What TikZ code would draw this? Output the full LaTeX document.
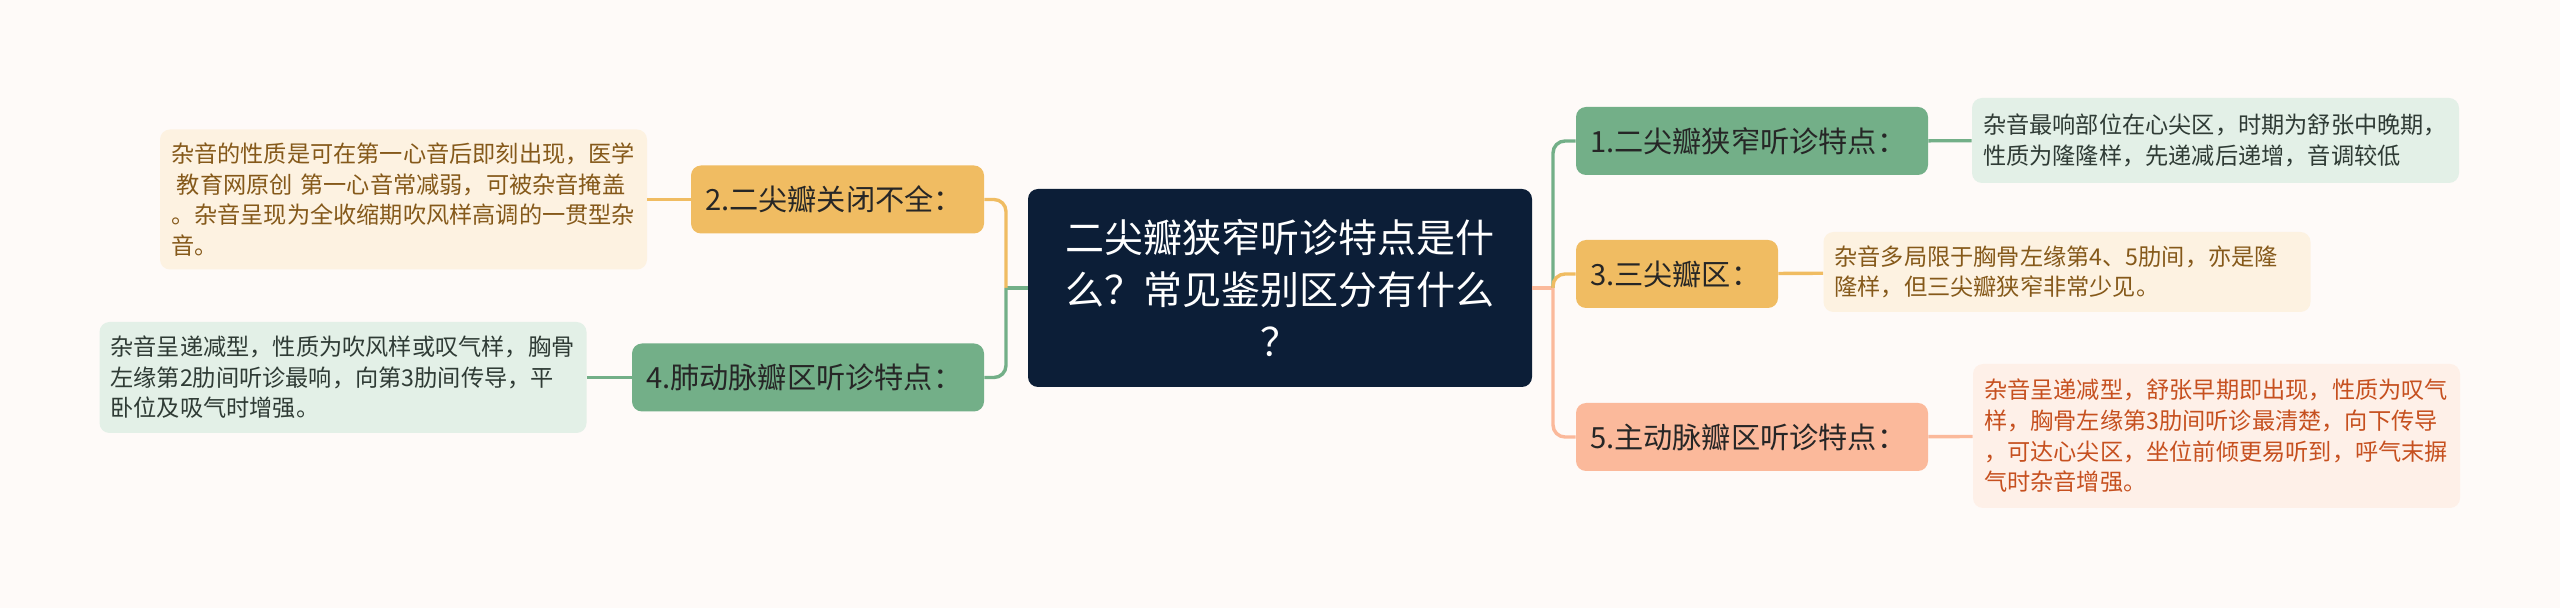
\documentclass[tikz,border=0pt]{standalone}
\usepackage{fontspec}
\newfontfamily\cjk{Noto Sans CJK SC}
\usetikzlibrary{positioning}
\definecolor{bgcol}{HTML}{FEFAF8}
\definecolor{navyc}{HTML}{0C1E37}
\definecolor{orangec}{HTML}{F0BC62}
\definecolor{greenc}{HTML}{73AF88}
\definecolor{peachc}{HTML}{FBB99B}
\definecolor{creamc}{HTML}{FDF2E1}
\definecolor{mintc}{HTML}{E3F0E7}
\definecolor{blushc}{HTML}{FEF0E8}
\definecolor{brownt}{HTML}{85591A}
\definecolor{greent}{HTML}{2F3B35}
\definecolor{redt}{HTML}{C6501F}
\definecolor{nodet}{HTML}{262626}
\tikzset{
    rootnode/.style = {rectangle, rounded corners=5pt, fill=navyc, text=white, align=center, font=\cjk\fontsize{19.5}{26}\selectfont, minimum width=252pt, minimum height=99pt, inner sep=0pt},
    branch/.style = {rectangle, rounded corners=5pt, align=left, font=\cjk\fontsize{14.6}{18}\selectfont, text=nodet, minimum height=34pt, inner xsep=7pt, inner ysep=0pt},
    brancho/.style = {branch, fill=orangec},
    branchg/.style = {branch, fill=greenc},
    branchp/.style = {branch, fill=peachc},
    leaf/.style = {rectangle, rounded corners=5pt, align=left, font=\cjk\fontsize{11.6}{15.3}\selectfont, text width=232.5pt, inner xsep=5.5pt, inner ysep=0pt},
    leafo/.style = {leaf, fill=creamc, text=brownt},
    leafg/.style = {leaf, fill=mintc, text=greent},
    leafp/.style = {leaf, fill=blushc, text=redt},
    edgeo/.style = {-,line width=1.7pt,orangec},
    edgeg/.style = {-,line width=1.7pt,greenc},
    edgep/.style = {-,line width=1.7pt,peachc}
}

\begin{document}
\begin{tikzpicture}[x=0.5pt,y=-0.5pt]
  \useasboundingbox (0,0) rectangle (2560,608);
  \fill[bgcol] (0,0) rectangle (2560,608);
  \node (root) at (1280,288) [rootnode] {二尖瓣狭窄听诊特点是什\\么？常见鉴别区分有什么\\？};
  % left
  \node (n2) at (837.5,199.5) [brancho,text width=132.5pt] {2.二尖瓣关闭不全：};
  \node (n4) at (808,377.5) [branchg,text width=162pt] {4.肺动脉瓣区听诊特点：};
  \node (l2) at (403.5,199.5) [leafo,minimum height=70pt] {杂音的性质是可在第一心音后即刻出现，医学\\\hspace*{0.25em}教育网原创 第一心音常减弱，可被杂音掩盖\\。杂音呈现为全收缩期吹风样高调的一贯型杂\\音。};
  \node (l4) at (343,377.5) [leafg,minimum height=55.5pt] {杂音呈递减型，性质为吹风样或叹气样，胸骨\\左缘第2肋间听诊最响，向第3肋间传导，平\\卧位及吸气时增强。};
  % right
  \node (n1) at (1752,141) [branchg,text width=162pt] {1.二尖瓣狭窄听诊特点：};
  \node (n3) at (1677,274) [brancho,text width=87pt] {3.三尖瓣区：};
  \node (n5) at (1752,437) [branchp,text width=162pt] {5.主动脉瓣区听诊特点：};
  \node (l1) at (2215.5,140.5) [leafg,minimum height=42.5pt] {杂音最响部位在心尖区，时期为舒张中晚期，\\性质为隆隆样，先递减后递增，音调较低};
  \node (l3) at (2067,272) [leafo,minimum height=40pt] {杂音多局限于胸骨左缘第4、5肋间，亦是隆\\隆样，但三尖瓣狭窄非常少见。};
  \node (l5) at (2216.5,436) [leafp,minimum height=72pt] {杂音呈递减型，舒张早期即出现，性质为叹气\\样，胸骨左缘第3肋间听诊最清楚，向下传导\\，可达心尖区，坐位前倾更易听到，呼气末摒\\气时杂音增强。};
  \coordinate (trunkl) at (1006,288);
  \coordinate (trunkr) at (1553,288);
  \draw[edgeg] (root.west) -- (trunkl);
  \draw[edgeo,rounded corners=6pt] (trunkl) |- (n2.east);
  \draw[edgeg,rounded corners=6pt] (trunkl) |- (n4.east);
  \draw[edgep] (root.east) -- (trunkr);
  \draw[edgeg,rounded corners=6pt] (trunkr) |- (n1.west);
  \draw[edgeo,rounded corners=6pt] (trunkr) |- (n3.west);
  \draw[edgep,rounded corners=6pt] (trunkr) |- (n5.west);
  \draw[edgeo] (l2) -- (n2);
  \draw[edgeg] (l4) -- (n4);
  \draw[edgeg] (n1) -- (l1);
  \draw[edgeo] (n3) -- (l3);
  \draw[edgep] (n5) -- (l5);
\end{tikzpicture}
\end{document}
